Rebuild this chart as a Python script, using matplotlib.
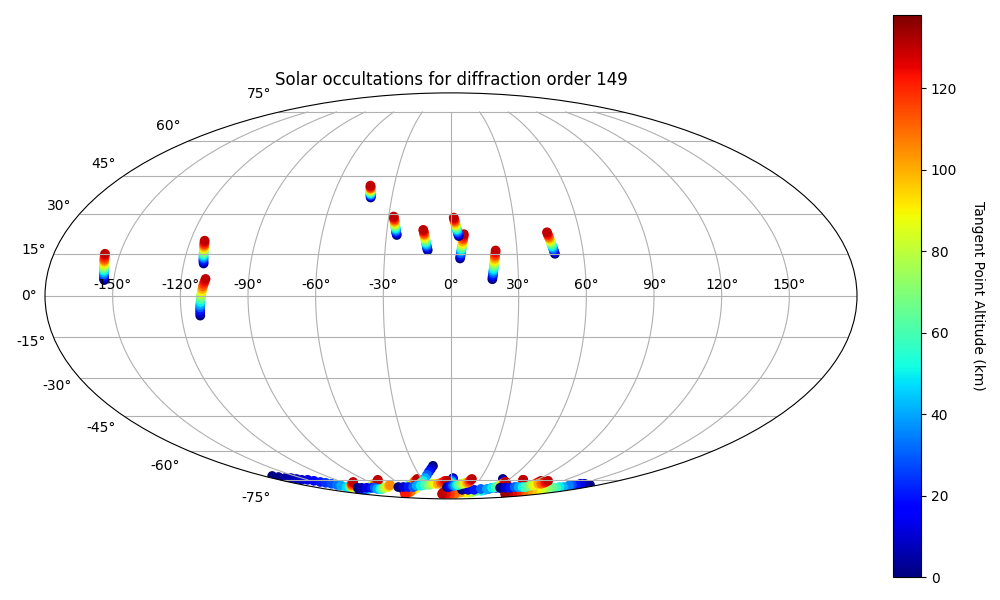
import numpy as np
import matplotlib
matplotlib.use("Agg")
import matplotlib.pyplot as plt

DIFFRACTION_ORDER = 149

# tangent altitude of each sample along an occultation (km)
altitudes = [0, 10, 20, 30, 40, 50, 60, 70, 80, 90, 100, 110, 118, 124, 130]
alt_s1 = [0, 2, 4, 6, 8, 10, 13, 16, 20, 24, 28, 33, 40, 47, 55, 65, 75, 90, 100, 110, 118, 124, 130]
alt_s2 = [0, 6, 12, 20, 30, 40, 50, 60, 70, 78, 85, 90, 95, 100, 105]
alt_s4 = [0, 10, 20, 30, 40, 50, 60, 70, 80, 90, 100, 108, 114, 118, 122]
alt_s10 = [0, 5, 12, 20, 28, 35, 42, 50, 58, 65, 72, 78, 84, 90, 96, 102, 108, 114, 120, 125, 130, 134]

# tangent point longitude / latitude in degrees, same order as altitudes
lon_w1 = [-154.2, -154.4, -154.6, -154.8, -154.9, -155.1, -155.3, -155.5, -155.6, -155.8, -156.0, -156.2, -156.4, -156.6, -156.8]
lat_w1 = [5.7, 6.4, 7.1, 7.7, 8.4, 9.1, 9.7, 10.4, 11.0, 11.7, 12.4, 13.0, 13.7, 14.5, 15.2]
lon_w2 = [-111.1, -111.3, -111.5, -111.6, -111.8, -112.0, -112.1, -112.3, -112.5, -112.6, -112.8, -113.0, -113.1, -113.3, -113.5]
lat_w2 = [11.7, 12.3, 12.9, 13.5, 14.1, 14.7, 15.3, 15.9, 16.5, 17.1, 17.7, 18.3, 18.8, 19.4, 20.0]
lon_w3 = [-111.7, -111.6, -111.5, -111.4, -111.3, -111.1, -111.0, -110.9, -110.7, -110.5, -110.3, -110.1, -109.8, -109.5, -109.2]
lat_w3 = [-7.1, -6.1, -5.1, -4.1, -3.2, -2.2, -1.2, -0.3, 0.6, 1.6, 2.5, 3.4, 4.3, 5.2, 6.1]
lon_n1 = [-40.7, -40.8, -41.0, -41.1, -41.2, -41.3, -41.5, -41.6, -41.7, -41.8, -42.0, -42.1, -42.2, -42.4, -42.5]
lat_n1 = [36.3, 36.6, 37.0, 37.3, 37.6, 38.0, 38.3, 38.7, 39.0, 39.3, 39.7, 40.0, 40.3, 40.7, 41.0]
lon_n2 = [-25.2, -25.4, -25.6, -25.7, -25.9, -26.0, -26.2, -26.4, -26.5, -26.7, -26.9, -27.0, -27.2, -27.4, -27.6]
lat_n2 = [22.1, 22.6, 23.1, 23.6, 24.1, 24.6, 25.1, 25.6, 26.1, 26.6, 27.0, 27.5, 28.0, 28.5, 29.0]
lon_n3 = [-10.6, -10.8, -11.0, -11.1, -11.3, -11.5, -11.6, -11.8, -12.0, -12.1, -12.3, -12.5, -12.6, -12.8, -13.0]
lat_n3 = [16.5, 17.0, 17.6, 18.1, 18.6, 19.2, 19.7, 20.3, 20.8, 21.3, 21.9, 22.4, 22.9, 23.5, 24.0]
lon_n4 = [3.6, 3.4, 3.3, 3.1, 2.9, 2.8, 2.6, 2.4, 2.3, 2.1, 2.0, 1.8, 1.6, 1.5, 1.3]
lat_n4 = [21.7, 22.2, 22.7, 23.2, 23.7, 24.2, 24.7, 25.2, 25.6, 26.1, 26.6, 27.1, 27.6, 28.1, 28.6]
lon_n5 = [4.1, 4.2, 4.4, 4.5, 4.6, 4.8, 4.9, 5.0, 5.2, 5.3, 5.4, 5.6, 5.7, 5.9, 6.0]
lat_n5 = [13.5, 14.1, 14.8, 15.4, 16.1, 16.7, 17.3, 17.9, 18.5, 19.1, 19.7, 20.4, 21.0, 21.7, 22.4]
lon_n6 = [18.4, 18.5, 18.7, 18.8, 18.9, 19.1, 19.2, 19.3, 19.5, 19.6, 19.7, 19.9, 20.0, 20.2, 20.3]
lat_n6 = [6.0, 6.8, 7.5, 8.2, 9.0, 9.7, 10.5, 11.2, 12.0, 12.7, 13.4, 14.2, 14.9, 15.7, 16.4]
lon_n7 = [47.1, 46.9, 46.8, 46.6, 46.4, 46.3, 46.1, 46.0, 45.8, 45.6, 45.5, 45.3, 45.1, 45.0, 44.8]
lat_n7 = [15.2, 15.8, 16.3, 16.9, 17.5, 18.0, 18.6, 19.2, 19.7, 20.3, 20.8, 21.4, 22.0, 22.5, 23.1]

lon_s3 = [-145.0, -134.4, -131.4, -121.6, -118.7, -110.5, -104.8, -99.5, -94.8, -90.6, -89.4, -85.5, -82.0, -78.5, -76.7]
lat_s3 = [-82.1, -81.4, -81.4, -80.8, -80.8, -80.0, -79.5, -78.6, -78.1, -77.4, -77.4, -76.8, -76.3, -75.6, -75.0]
lon_s6 = [-71.0, -65.8, -61.4, -57.6, -56.3, -52.9, -49.8, -48.6, -45.9, -43.3, -41.0, -38.7, -37.7, -35.7, -34.8]
lat_s6 = [-81.4, -80.8, -80.0, -79.5, -79.5, -78.6, -78.1, -78.1, -77.4, -76.8, -76.3, -75.6, -75.6, -75.0, -74.5]
lon_s12 = [2.0, 2.0, 2.1, 1.1, 1.1, 0.0, -1.2, -1.2, -2.5, -3.9, -5.5, -7.6, -9.6, -11.9, -14.7]
lat_s12 = [-74.0, -74.5, -75.0, -75.6, -76.3, -76.8, -77.4, -78.1, -78.6, -79.5, -80.0, -81.4, -82.1, -83.0, -83.6]
lon_s13 = [53.2, 57.0, 61.6, 68.0, 77.3, 85.9, 91.4, 96.8, 98.3, 99.5, 99.6, 98.8, 98.0, 97.5, 96.8]
lat_s13 = [-74.5, -75.6, -76.8, -78.1, -79.5, -80.0, -80.0, -80.0, -79.5, -78.6, -78.1, -77.4, -76.8, -76.3, -75.6]
lon_s14 = [91.5, 88.7, 90.0, 87.8, 89.1, 86.9, 85.0, 86.3, 83.5, 82.1, 79.8, 79.8, 77.5, 75.6, 75.6]
lat_s14 = [-80.8, -80.0, -80.0, -79.5, -79.5, -78.6, -78.1, -78.1, -77.4, -76.8, -76.3, -76.3, -75.6, -75.0, -75.0]
lon_s1 = [-171.8, -169.5, -167.0, -161.0, -158.7, -156.5, -150.2, -147.4, -145.1, -142.5, -139.9, -138.5, -137.3, -137.6, -133.6, -131.0, -129.7, -129.5, -124.7, -120.3, -116.4, -111.7, -108.6]
lat_s1 = [-72.8, -73.4, -74.0, -74.0, -74.5, -75.0, -75.0, -75.6, -76.3, -76.8, -77.4, -78.1, -78.6, -79.5, -79.5, -79.5, -79.5, -79.3, -78.6, -78.1, -77.4, -76.8, -76.3]
lon_s2 = [-126.9, -121.4, -114.6, -107.8, -103.7, -105.8, -101.5, -98.7, -91.4, -90.0, -83.8, -82.5, -78.1, -76.9, -74.1]
lat_s2 = [-80.0, -80.0, -80.0, -80.0, -80.0, -80.8, -80.8, -80.8, -80.0, -80.0, -79.5, -79.5, -78.6, -78.6, -78.1]
lon_s4 = [-14.6, -17.0, -19.6, -22.6, -26.0, -30.1, -34.2, -38.9, -44.5, -51.5, -62.2, -69.9, -79.1, -90.7, -92.7]
lat_s4 = [-67.4, -69.0, -70.5, -72.2, -74.0, -75.6, -76.8, -78.1, -79.5, -80.8, -82.1, -83.0, -83.6, -84.5, -84.5]
lon_s8 = [66.8, 61.4, 55.9, 54.3, 51.3, 47.9, 41.5, 37.5, 33.1, 25.8, 16.6, 8.1, -2.0, -10.1, -18.1]
lat_s8 = [-80.0, -80.0, -80.0, -80.8, -81.4, -82.1, -82.1, -83.0, -83.6, -83.6, -83.6, -84.5, -84.5, -84.5, -84.5]
lon_s5 = [-69.4, -62.9, -56.3, -49.8, -42.8, -37.8, -31.6, -26.7, -22.3, -18.8, -15.3, -11.4, -8.9, -6.5, -4.3]
lat_s5 = [-79.5, -79.5, -79.5, -79.5, -78.6, -78.6, -78.1, -78.1, -77.4, -77.4, -77.4, -76.8, -76.3, -75.6, -75.6]
lon_s9 = [16.6, 25.7, 34.7, 42.9, 51.5, 55.9, 59.0, 60.5, 60.8, 60.0, 61.2, 60.4, 61.6, 59.8, 60.9]
lat_s9 = [-81.4, -81.4, -81.4, -80.8, -80.8, -80.0, -79.5, -78.6, -78.1, -77.4, -77.4, -76.8, -76.8, -76.3, -76.3]
lon_s7 = [-5.2, -2.6, 0.0, 2.5, 5.0, 7.3, 9.7, 11.8, 14.1, 16.0, 18.2, 19.9, 20.4, 21.0, 21.5]
lat_s7 = [-79.5, -79.5, -78.6, -78.6, -78.6, -78.1, -78.1, -77.4, -77.4, -76.8, -76.8, -76.3, -75.6, -75.0, -74.5]
lon_s10 = [168.9, 156.4, 151.7, 151.9, 147.0, 147.4, 148.0, 142.8, 143.2, 137.8, 138.7, 133.0, 134.4, 128.4, 129.2, 122.8, 124.5, 117.6, 119.6, 112.2, 114.9, 108.8]
lat_s10 = [-78.1, -77.4, -77.4, -78.1, -78.1, -78.6, -79.5, -79.5, -80.0, -80.0, -80.8, -80.8, -81.4, -81.4, -82.1, -82.1, -83.0, -83.0, -83.6, -83.6, -84.5, -84.5]
lon_s11 = [66.8, 73.7, 80.5, 83.8, 89.1, 94.3, 98.3, 98.3, 102.1, 102.1, 102.3, 105.8, 106.0, 105.3, 104.4]
lat_s11 = [-80.0, -80.0, -80.0, -79.5, -79.5, -79.5, -79.5, -78.6, -78.6, -78.1, -77.4, -77.4, -76.8, -76.3, -75.6]

# drawing order matters: later occultations sit on top
tracks = [
    (lon_w1, lat_w1, altitudes), (lon_w2, lat_w2, altitudes), (lon_w3, lat_w3, altitudes),
    (lon_n1, lat_n1, altitudes), (lon_n2, lat_n2, altitudes), (lon_n3, lat_n3, altitudes),
    (lon_n5, lat_n5, altitudes), (lon_n4, lat_n4, altitudes), (lon_n6, lat_n6, altitudes), (lon_n7, lat_n7, altitudes),
    (lon_s3, lat_s3, altitudes), (lon_s6, lat_s6, altitudes), (lon_s12, lat_s12, altitudes),
    (lon_s13, lat_s13, altitudes), (lon_s14, lat_s14, altitudes),
    (lon_s1, lat_s1, alt_s1), (lon_s2, lat_s2, alt_s2), (lon_s4, lat_s4, alt_s4),
    (lon_s8, lat_s8, altitudes), (lon_s5, lat_s5, altitudes), (lon_s9, lat_s9, altitudes),
    (lon_s7, lat_s7, altitudes), (lon_s10, lat_s10, alt_s10), (lon_s11, lat_s11, altitudes),
]


def main() -> None:
    fig = plt.figure(figsize=(10, 6))
    ax = fig.add_axes([0.045, 0.1685, 0.812, 0.6767], projection="mollweide")

    for lons, lats, alts in tracks:
        sc = ax.scatter(np.radians(lons), np.radians(lats), c=alts, cmap="jet", vmin=0, vmax=138)

    ax.set_title(f"Solar occultations for diffraction order {DIFFRACTION_ORDER}")
    ax.grid(True)

    cax = fig.add_axes([0.893, 0.0383, 0.028, 0.9367])
    cbar = fig.colorbar(sc, cax=cax)
    cbar.set_label("Tangent Point Altitude (km)", rotation=270, labelpad=20)

    fig.savefig("out.png", dpi=100)
    plt.close(fig)


if __name__ == "__main__":
    main()
